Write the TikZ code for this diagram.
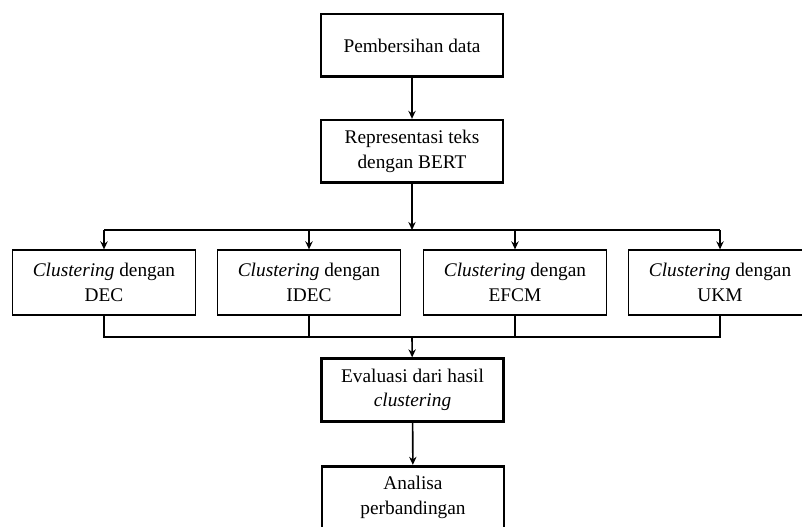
\documentclass[tikz,border=0pt]{standalone}
\usepackage{fontspec}
\setmainfont{Liberation Serif}
\usetikzlibrary{arrows.meta}

\tikzset{every picture/.style={line width=1.2pt}}
\tikzset{
  stagebox/.style={draw, line width=2pt, minimum width=136.5pt, minimum height=47pt,
    align=center, inner sep=2pt, font=\fontsize{14.5}{18.5}\selectfont},
  clusterbox/.style={stagebox, line width=1.2pt, minimum width=137pt, minimum height=48.5pt},
  flow/.style={-{Stealth[length=6pt,width=5.5pt]}}
}

\begin{document}
\begin{tikzpicture}[x=0.75pt,y=0.75pt,yscale=-1,xscale=1]
\clip (0,0) rectangle (802,527);

%Stages on the spine
\node[stagebox] (clean) at (412,45.5) {Pembersihan data};
\node[stagebox] (bert) at (412,151.5) {Representasi teks\\dengan BERT};

%Clustering methods
\node[clusterbox] (dec) at (104,282.5) {\textit{Clustering} dengan\\DEC};
\node[clusterbox] (idec) at (309,282.5) {\textit{Clustering} dengan\\IDEC};
\node[clusterbox] (efcm) at (515,282.5) {\textit{Clustering} dengan\\EFCM};
\node[clusterbox] (ukm) at (720,282.5) {\textit{Clustering} dengan\\UKM};

\node[stagebox] (eval) at (412.5,390) {Evaluasi dari hasil\\\textit{clustering}};
\node[stagebox] (compare) at (413,497.5) {Analisa\\perbandingan};

%Connectors
\coordinate (splitbus) at (412,230);
\coordinate (joinbus) at (412,337);

\draw[flow] (clean) -- (bert);
\draw[flow] (bert) -- (splitbus);
\draw (dec.north |- splitbus) -- (ukm.north |- splitbus);
\foreach \m in {dec,idec,efcm,ukm}
  \draw[flow] (\m.north |- splitbus) -- (\m.north);

\draw (dec.south) -- (dec.south |- joinbus) -- (ukm.south |- joinbus) -- (ukm.south);
\draw (idec.south) -- (idec.south |- joinbus);
\draw (efcm.south) -- (efcm.south |- joinbus);
\draw[flow] (joinbus) -- (eval);
\draw[flow] (eval) -- (compare);

\end{tikzpicture}
\end{document}
